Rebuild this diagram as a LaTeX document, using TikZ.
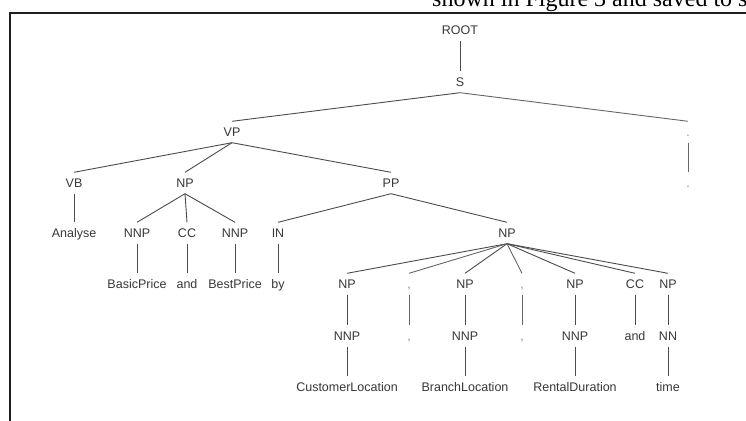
\documentclass[tikz,border=0pt]{standalone}
\usepackage{fontspec}
\setmainfont{Liberation Sans}
\newfontfamily\capfont{Liberation Serif}
\begin{document}
\begin{tikzpicture}[x=1pt,y=-1pt,
  lab/.style={font=\fontsize{12.5}{15}\selectfont, text=black!78, inner xsep=1pt, inner ysep=6pt, text height=9pt, text depth=0pt},
  punct/.style={lab, text=black!45},
  edge/.style={draw=black!70, line width=0.9pt},
  pedge/.style={draw=black!60, line width=0.9pt}]
\useasboundingbox (0,0) rectangle (746,420);
\clip (0,0) rectangle (746,420);
\fill[white] (0,0) rectangle (746,420);
% caption fragment and frame
\node[anchor=base west, inner sep=0pt, font=\capfont\fontsize{24}{28}\selectfont] (caption) at (432,7) {shown in Figure 3 and saved to s};
\draw[line width=2pt, black!88] (10,440) |- (760,13);
% level 0-2
\node[lab] (root) at (460,30) {ROOT};
\node[lab] (s) at (460,82) {S};
\node[lab] (vp) at (232,132) {VP};
\node[punct] (dota) at (688,132) {.};
% level 3
\node[lab] (vb) at (74,183) {VB};
\node[lab] (npa) at (185,183) {NP};
\node[lab] (pp) at (391,183) {PP};
\node[punct] (dotb) at (688,183) {.};
% level 4
\node[lab] (analyse) at (74,233) {Analyse};
\node[lab] (nnpa) at (137,233) {NNP};
\node[lab] (cca) at (187,233) {CC};
\node[lab] (nnpb) at (235,233) {NNP};
\node[lab] (in) at (278,233) {IN};
\node[lab] (npb) at (507,233) {NP};
% level 5
\node[lab] (basic) at (137,284) {BasicPrice};
\node[lab] (anda) at (187,284) {and};
\node[lab] (best) at (235,284) {BestPrice};
\node[lab] (by) at (278,284) {by};
\node[lab] (npc) at (347,284) {NP};
\node[punct] (comaa) at (409,284) {,};
\node[lab] (npd) at (465,284) {NP};
\node[punct] (comba) at (522,284) {,};
\node[lab] (npe) at (575,284) {NP};
\node[lab] (ccb) at (635,284) {CC};
\node[lab] (npf) at (668,284) {NP};
% level 6
\node[lab] (nnpc) at (347,336) {NNP};
\node[punct] (comab) at (409,336) {,};
\node[lab] (nnpd) at (465,336) {NNP};
\node[punct] (combb) at (522,336) {,};
\node[lab] (nnpe) at (575,336) {NNP};
\node[lab] (andb) at (635,336) {and};
\node[lab] (nn) at (668,336) {NN};
% level 7
\node[lab] (custloc) at (347,387) {CustomerLocation};
\node[lab] (branchloc) at (465,387) {BranchLocation};
\node[lab] (rental) at (575,387) {RentalDuration};
\node[lab] (time) at (668,387) {time};
% edges
\foreach \a/\b in {root/s, s/vp, vp/vb, vp/npa, vp/pp, vb/analyse,
  npa/nnpa, npa/cca, npa/nnpb, pp/in, pp/npb,
  nnpa/basic, cca/anda, nnpb/best, in/by,
  npb/npc, npb/npd, npb/npe, npb/ccb, npb/npf,
  npc/nnpc, npd/nnpd, npe/nnpe, ccb/andb, npf/nn,
  nnpc/custloc, nnpd/branchloc, nnpe/rental, nn/time}
  \draw[edge] (\a.south) -- (\b.north);
\foreach \a/\b in {s/dota, dota/dotb, npb/comaa, npb/comba, comaa/comab, comba/combb}
  \draw[pedge] (\a.south) -- (\b.north);
\end{tikzpicture}
\end{document}
